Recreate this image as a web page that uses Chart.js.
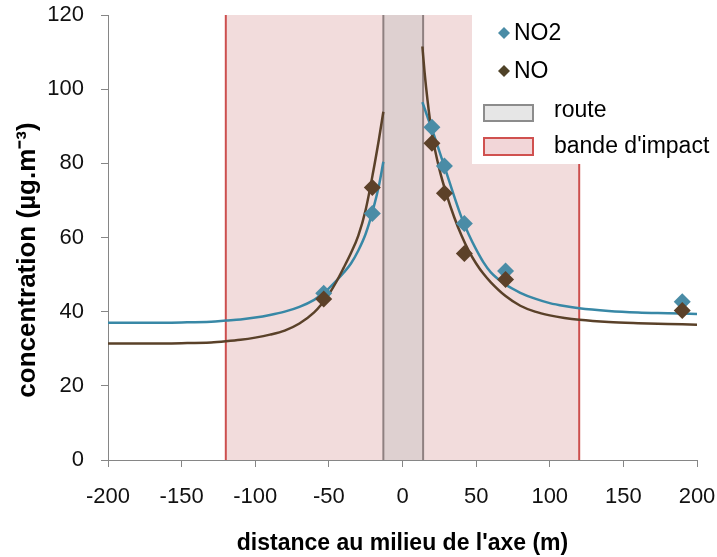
<!DOCTYPE html>
<html>
<head>
<meta charset="utf-8">
<script src="https://cdn.jsdelivr.net/npm/chart.js@4"></script>
<style>
  html, body { margin: 0; padding: 0; background: #fff; }
  #wrap { width: 717px; height: 557px; }
</style>
</head>
<body>
<div id="wrap"><canvas id="myChart" width="717" height="557"></canvas></div>
<script>
// measured points (distance, concentration)
const distX = [-53.5, -20.5, 20, 28.5, 42, 70, 190];
const no2Obs = [45.0, 66.5, 89.7, 79.3, 63.8, 51.0, 42.7];
const noObs = [43.4, 73.5, 85.4, 71.9, 55.7, 48.7, 40.3];

// fitted curves, left and right of the road
const fitXLeft = [-200, -175, -150, -130, -120, -110, -100, -90, -80, -70, -60, -55, -50, -45, -40, -35, -30, -25, -20, -16, -13];
const no2FitLeft = [37.0, 37.0, 37.1, 37.3, 37.6, 37.9, 38.4, 39.1, 40.0, 41.3, 43.2, 44.6, 46.3, 48.3, 50.5, 53.0, 56.5, 61.0, 67.5, 74.0, 80.4];
const noFitLeft = [31.4, 31.4, 31.5, 31.7, 32.0, 32.4, 33.0, 33.8, 34.9, 36.8, 39.8, 42.0, 44.7, 48.0, 51.8, 55.8, 60.5, 67.5, 77.5, 86.5, 93.9];

const fitXRight = [13.5, 15, 17, 20, 25, 30, 35, 40, 45, 50, 55, 60, 70, 80, 90, 100, 110, 120, 140, 160, 180, 200];
const no2FitRight = [96.5, 94.8, 92.5, 89.2, 83.3, 77.3, 71.2, 65.5, 60.8, 56.8, 53.3, 50.6, 47.3, 45.1, 43.5, 42.3, 41.5, 40.9, 40.2, 39.8, 39.6, 39.4];
const noFitRight = [111.5, 104.5, 97.0, 88.0, 78.5, 71.5, 65.6, 60.6, 56.4, 53.0, 50.2, 47.9, 44.2, 41.6, 40.0, 39.0, 38.3, 37.8, 37.2, 36.9, 36.7, 36.5];

// shaded zones
const bandX = [-120, 120];   // bande d'impact
const routeX = [-13, 14];    // route

const xTicks = [-200, -150, -100, -50, 0, 50, 100, 150, 200];
const yTicks = [0, 20, 40, 60, 80, 100, 120];

const FONT = "'Liberation Sans', Arial, sans-serif";
const NO2_COLOR = "#4a8ca6";
const NO_COLOR = "#5c4129";

function toPoints(xs, ys) {
  return xs.map((x, i) => ({ x: x, y: ys[i] }));
}
function curve(xl, yl, xr, yr) {
  return toPoints(xl, yl).concat([{ x: 0, y: null }], toPoints(xr, yr));
}

const zonesPlugin = {
  id: "zones",
  beforeDatasetsDraw(chart) {
    const { ctx, chartArea, scales } = chart;
    const x = scales.x;
    const top = chartArea.top, bottom = chartArea.bottom;
    ctx.save();
    const b0 = x.getPixelForValue(bandX[0]);
    const b1 = x.getPixelForValue(bandX[1]);
    ctx.fillStyle = "rgb(242,220,220)";
    ctx.fillRect(b0, top, b1 - b0, bottom - top);
    const r0 = x.getPixelForValue(routeX[0]);
    const r1 = x.getPixelForValue(routeX[1]);
    ctx.fillStyle = "rgb(222,208,208)";
    ctx.fillRect(r0, top, r1 - r0, bottom - top);
    ctx.lineWidth = 2;
    ctx.strokeStyle = "#cc4f4e";
    [b0, b1].forEach(p => {
      ctx.beginPath(); ctx.moveTo(p, top); ctx.lineTo(p, bottom); ctx.stroke();
    });
    ctx.strokeStyle = "#8f8080";
    [r0, r1].forEach(p => {
      ctx.beginPath(); ctx.moveTo(p, top); ctx.lineTo(p, bottom); ctx.stroke();
    });
    ctx.restore();
  }
};

function diamond(ctx, cx, cy, r, color) {
  ctx.fillStyle = color;
  ctx.beginPath();
  ctx.moveTo(cx, cy - r); ctx.lineTo(cx + r, cy); ctx.lineTo(cx, cy + r); ctx.lineTo(cx - r, cy);
  ctx.closePath(); ctx.fill();
}

const legendPlugin = {
  id: "boxLegend",
  afterDraw(chart) {
    const ctx = chart.ctx;
    ctx.save();
    ctx.fillStyle = "#fff";
    ctx.fillRect(472, 0, 245, 164);
    ctx.font = "23px " + FONT;
    ctx.textBaseline = "middle";
    diamond(ctx, 504, 33, 6, NO2_COLOR);
    ctx.fillStyle = "#000";
    ctx.fillText("NO2", 514, 34);
    diamond(ctx, 504, 71, 6, "#4f4228");
    ctx.fillStyle = "#000";
    ctx.fillText("NO", 514, 72);
    ctx.lineWidth = 2;
    ctx.fillStyle = "#e6e6e6";
    ctx.strokeStyle = "#8c8c8c";
    ctx.fillRect(484, 105, 49, 16);
    ctx.strokeRect(484, 105, 49, 16);
    ctx.fillStyle = "#000";
    ctx.fillText("route", 554, 111);
    ctx.fillStyle = "#f2d6d8";
    ctx.strokeStyle = "#d0514f";
    ctx.fillRect(484, 138, 49, 17);
    ctx.strokeRect(484, 138, 49, 17);
    ctx.fillStyle = "#000";
    ctx.fillText("bande d'impact", 554, 147);

    // y axis title
    ctx.translate(28, 260);
    ctx.rotate(-Math.PI / 2);
    ctx.font = "bold 26px " + FONT;
    ctx.textAlign = "center";
    ctx.fillText("concentration (µg.m⁻³)", 0, 0);
    ctx.restore();
  }
};

const ctx = document.getElementById("myChart");

const myChart = new Chart(ctx, {
  type: "scatter",
  data: {
    datasets: [
      {
        label: "NO",
        data: toPoints(distX, noObs),
        pointStyle: "rectRot",
        pointRadius: 8.5,
        backgroundColor: NO_COLOR,
        borderColor: NO_COLOR,
        borderWidth: 0,
      },
      {
        label: "NO2",
        data: toPoints(distX, no2Obs),
        pointStyle: "rectRot",
        pointRadius: 8.5,
        backgroundColor: NO2_COLOR,
        borderColor: NO2_COLOR,
        borderWidth: 0,
      },
      {
        label: "NO fit",
        data: curve(fitXLeft, noFitLeft, fitXRight, noFitRight),
        showLine: true,
        spanGaps: false,
        pointRadius: 0,
        borderColor: "#5a4129",
        borderWidth: 2.5,
        cubicInterpolationMode: "monotone",
      },
      {
        label: "NO2 fit",
        data: curve(fitXLeft, no2FitLeft, fitXRight, no2FitRight),
        showLine: true,
        spanGaps: false,
        pointRadius: 0,
        borderColor: "#3888a6",
        borderWidth: 2.5,
        cubicInterpolationMode: "monotone",
      },
    ],
  },
  options: {
    responsive: false,
    animation: false,
    layout: { padding: { left: 0, right: 20, top: 15, bottom: 0 } },
    plugins: {
      legend: { display: false },
      tooltip: { enabled: false },
    },
    scales: {
      x: {
        type: "linear",
        min: -200,
        max: 200,
        afterFit: (s) => { s.height = 97; s.paddingLeft = 0; s.paddingRight = 0; },
        afterBuildTicks: (s) => { s.ticks = xTicks.map(v => ({ value: v })); },
        grid: { display: true, drawOnChartArea: false, drawTicks: true, tickLength: 7, color: "#868686" },
        border: { display: true, color: "#868686", width: 1 },
        ticks: { font: { family: FONT, size: 22 }, color: "#111", padding: 17, maxRotation: 0 },
        title: {
          display: true,
          text: "distance au milieu de l'axe (m)",
          font: { family: FONT, size: 23, weight: "bold" },
          color: "#000",
          padding: { top: 0, bottom: 0 },
        },
      },
      y: {
        min: 0,
        max: 120,
        afterFit: (s) => { s.width = 108; s.paddingTop = 0; s.paddingBottom = 0; },
        afterBuildTicks: (s) => { s.ticks = yTicks.map(v => ({ value: v })); },
        grid: { display: true, drawOnChartArea: false, drawTicks: true, tickLength: 7, color: "#868686" },
        border: { display: true, color: "#868686", width: 1 },
        ticks: { font: { family: FONT, size: 22 }, color: "#111", padding: 17 },
        title: { display: false },
      },
    },
  },
  plugins: [zonesPlugin, legendPlugin],
});
</script>
</body>
</html>
